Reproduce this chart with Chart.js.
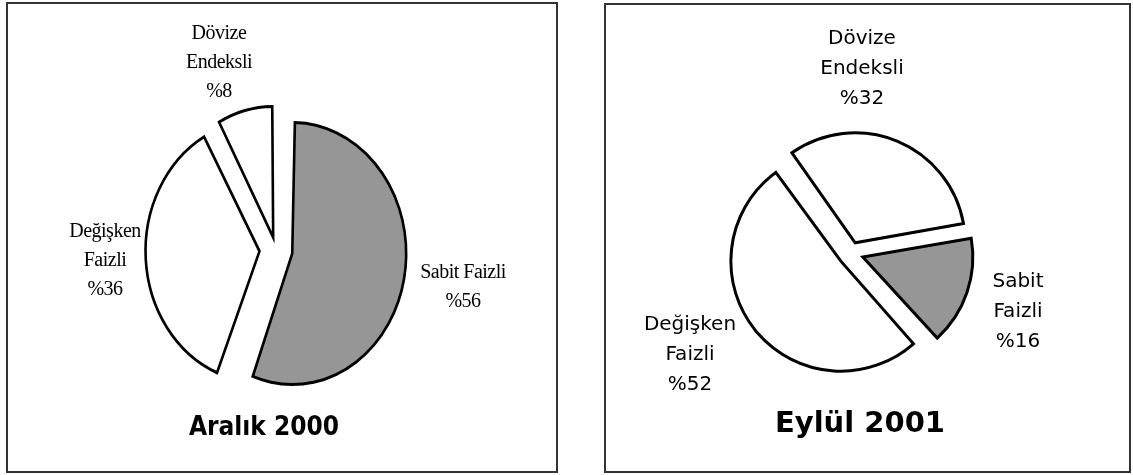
<!DOCTYPE html>
<html>
<head>
<meta charset="utf-8">
<script src="https://cdn.jsdelivr.net/npm/chart.js@4.4.1/dist/chart.umd.min.js"></script>
<style>
  body { margin: 0; width: 1133px; height: 475px; background: #fff; position: relative; overflow: hidden; }
  .panel { position: absolute; border: 2px solid #333; box-sizing: border-box; }
  canvas { position: absolute; }
  .lbl { position: absolute; text-align: center; white-space: nowrap; color: #000; }
  .serif { font-family: "Liberation Serif", serif; font-size: 20px; line-height: 29px; letter-spacing: -0.5px; }
  .sans { font-family: "DejaVu Sans", sans-serif; font-size: 20px; line-height: 30px; }
  .ttl { position: absolute; text-align: center; white-space: nowrap; font-weight: bold; color: #000; }
</style>
</head>
<body>
<div class="panel" style="left:6px;top:2px;width:552px;height:471px"></div>
<div class="panel" style="left:604px;top:3px;width:527px;height:470px"></div>
<canvas id="chart2000" style="left:8px;top:5px"></canvas>
<canvas id="chart2001" style="left:606px;top:5px"></canvas>
<div id="labels"></div>

<script>
// data
const categories = ['Sabit Faizli', 'Değişken Faizli', 'Dövize Endeksli'];
const aralik2000 = [56, 36, 8];
const eylul2001 = [16, 52, 32];
const sliceColors = ['#969696', '#ffffff', '#ffffff'];

// how the category names are broken into lines in each panel
const lines2000 = [['Sabit Faizli'], ['Değişken', 'Faizli'], ['Dövize', 'Endeksli']];
const lines2001 = [['Sabit', 'Faizli'], ['Değişken', 'Faizli'], ['Dövize', 'Endeksli']];

// squeeze the pie horizontally (the left one is an ellipse) and keep
// exploded slices at the same radius (chart.js grows big slices by the offset)
const squash = {
    id: 'squash',
    beforeDatasetsDraw(chart, args, opts) {
        const meta = chart.getDatasetMeta(0);
        meta.data.forEach(arc => {
            const o = (arc.options.offset || 0) / 4;
            const fix = 1 - Math.sin(Math.min(Math.PI, arc.circumference));
            arc.outerRadius = opts.radius - o * fix;
        });
        const arc = meta.data[0];
        const ctx = chart.ctx;
        ctx.save();
        ctx.translate(arc.x, arc.y);
        ctx.scale(opts.sx || 1, 1);
        ctx.translate(-arc.x, -arc.y);
    },
    afterDatasetsDraw(chart) {
        chart.ctx.restore();
    }
};

function makePie(id, w, h, values, radius, offsets, rotation, padding, sx) {
    const canvas = document.getElementById(id);
    canvas.width = w;
    canvas.height = h;
    canvas.style.width = w + 'px';
    canvas.style.height = h + 'px';
    return new Chart(canvas.getContext('2d'), {
        type: 'pie',
        data: {
            labels: categories,
            datasets: [{
                data: values,
                backgroundColor: sliceColors,
                borderColor: '#000',
                borderWidth: 3,
                borderJoinStyle: 'miter',
                offset: offsets,
                radius: radius
            }]
        },
        options: {
            responsive: false,
            animation: false,
            rotation: rotation,
            layout: { padding: padding },
            plugins: {
                legend: { display: false },
                tooltip: { enabled: false },
                squash: { sx: sx, radius: radius }
            }
        },
        plugins: [squash]
    });
}

makePie('chart2000', 548, 466, aralik2000, 131, [76, 76, 52], 0,
    { left: 0, right: 12, top: 24, bottom: 0 }, 0.87);
makePie('chart2001', 523, 466, eylul2001, 110, [50, 52, 44], 80,
    { left: 0, right: 33, top: 30, bottom: 0 }, 1);

// text labels
const box = document.getElementById('labels');
function addLabel(cls, cx, top, text) {
    const d = document.createElement('div');
    d.className = cls;
    d.style.left = (cx - 150) + 'px';
    d.style.width = '300px';
    d.style.top = top + 'px';
    d.innerHTML = text;
    box.appendChild(d);
}
const pos2000 = [[463, 257], [105, 216], [219, 18]];
const pos2001 = [[1018, 265], [690, 308], [862, 22]];
categories.forEach((c, i) => {
    addLabel('lbl serif', pos2000[i][0], pos2000[i][1], lines2000[i].concat('%' + aralik2000[i]).join('<br>'));
    addLabel('lbl sans', pos2001[i][0], pos2001[i][1], lines2001[i].concat('%' + eylul2001[i]).join('<br>'));
});

const t1 = document.createElement('div');
t1.className = 'ttl';
t1.style.cssText = 'left:114px;width:300px;top:411px;font-family:"DejaVu Sans Condensed","DejaVu Sans",sans-serif;font-size:26px;line-height:30px;';
t1.textContent = 'Aralık 2000';
box.appendChild(t1);
const t2 = document.createElement('div');
t2.className = 'ttl';
t2.style.cssText = 'left:710px;width:300px;top:406px;font-family:"DejaVu Sans",sans-serif;font-size:29px;line-height:33px;';
t2.textContent = 'Eylül 2001';
box.appendChild(t2);
</script>
</body>
</html>
